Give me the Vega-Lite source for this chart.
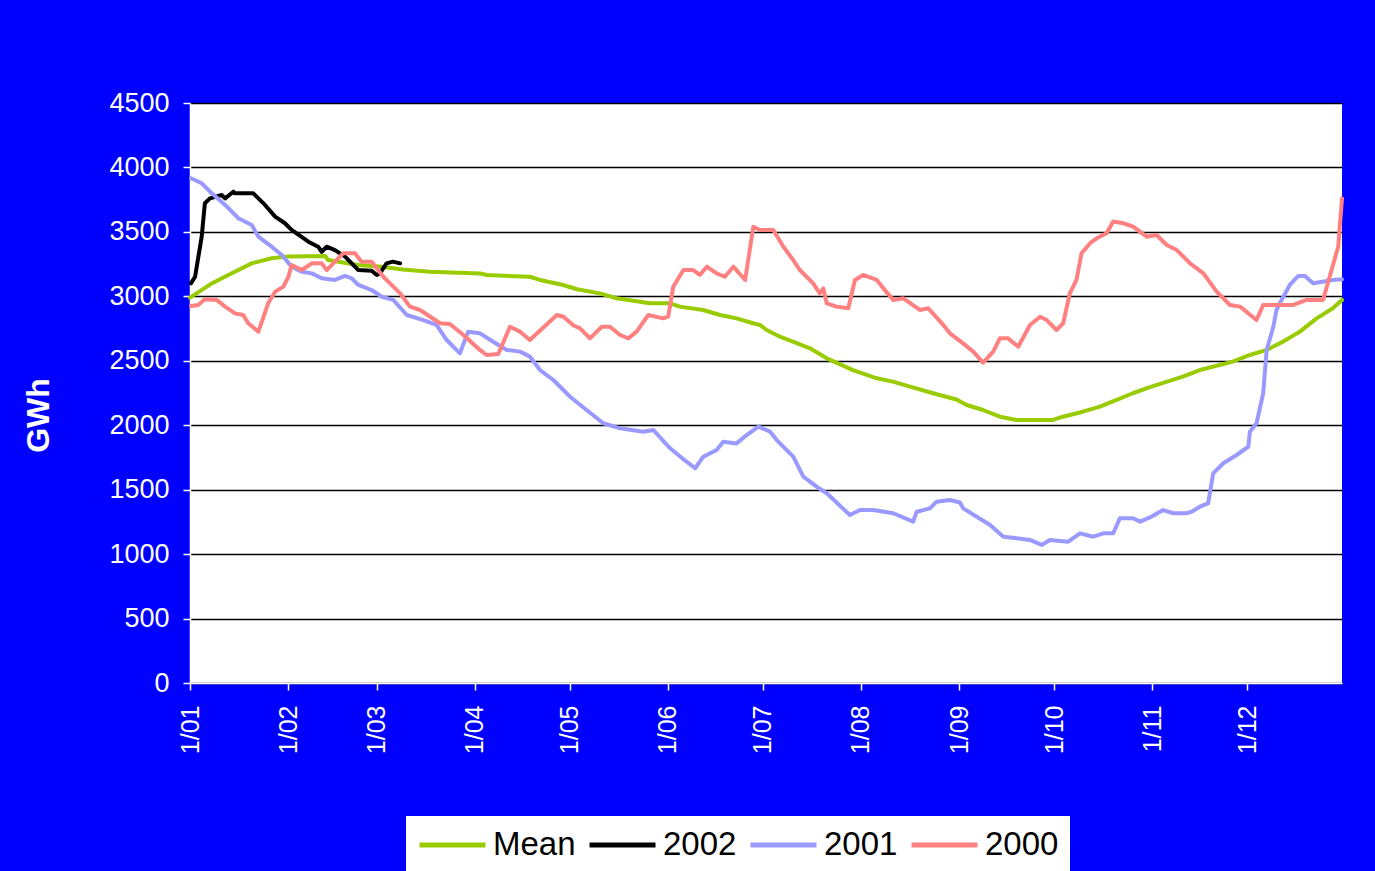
{
  "$schema": "https://vega.github.io/schema/vega-lite/v6.json",
  "width": 1152,
  "height": 580,
  "autosize": {"type": "none"},
  "padding": {"left": 190, "top": 103, "right": 33, "bottom": 188},
  "background": "#0000FF",
  "config": {"view": {"fill": "white", "stroke": null}, "font": "Liberation Sans"},
  "datasets": {
    "raw": [
      {"series":"Mean","day":0,"value":2990},{"series":"Mean","day":6.9,"value":3100},{"series":"Mean","day":12.1,"value":3166},{"series":"Mean","day":19.5,"value":3256},{"series":"Mean","day":25.8,"value":3295},{"series":"Mean","day":31,"value":3310},{"series":"Mean","day":42.7,"value":3313},{"series":"Mean","day":43.6,"value":3282},{"series":"Mean","day":53.1,"value":3243},{"series":"Mean","day":60.6,"value":3230},{"series":"Mean","day":67.3,"value":3209},{"series":"Mean","day":75.8,"value":3191},{"series":"Mean","day":91.6,"value":3178},{"series":"Mean","day":93.8,"value":3165},{"series":"Mean","day":107.4,"value":3152},{"series":"Mean","day":110.6,"value":3127},{"series":"Mean","day":117.9,"value":3088},{"series":"Mean","day":122.3,"value":3055},{"series":"Mean","day":129.5,"value":3023},{"series":"Mean","day":134.8,"value":2985},{"series":"Mean","day":145.3,"value":2946},{"series":"Mean","day":151.6,"value":2946},{"series":"Mean","day":154.8,"value":2920},{"series":"Mean","day":162.1,"value":2894},{"series":"Mean","day":167.5,"value":2855},{"series":"Mean","day":172.7,"value":2829},{"series":"Mean","day":177.9,"value":2791},{"series":"Mean","day":180.1,"value":2778},{"series":"Mean","day":182.2,"value":2739},{"series":"Mean","day":186.4,"value":2687},{"series":"Mean","day":190.5,"value":2648},{"series":"Mean","day":195.9,"value":2597},{"series":"Mean","day":201.2,"value":2519},{"series":"Mean","day":209.5,"value":2428},{"series":"Mean","day":217,"value":2364},{"series":"Mean","day":222.1,"value":2338},{"series":"Mean","day":227.5,"value":2299},{"series":"Mean","day":234.8,"value":2248},{"series":"Mean","day":242.2,"value":2200},{"series":"Mean","day":245.4,"value":2157},{"series":"Mean","day":250.6,"value":2118},{"series":"Mean","day":255.9,"value":2066},{"series":"Mean","day":261.2,"value":2041},{"series":"Mean","day":272.7,"value":2041},{"series":"Mean","day":275.8,"value":2066},{"series":"Mean","day":282.1,"value":2105},{"series":"Mean","day":287.5,"value":2144},{"series":"Mean","day":292.8,"value":2196},{"series":"Mean","day":297.9,"value":2248},{"series":"Mean","day":303.3,"value":2295},{"series":"Mean","day":313.7,"value":2377},{"series":"Mean","day":319.1,"value":2428},{"series":"Mean","day":329.5,"value":2493},{"series":"Mean","day":334.9,"value":2545},{"series":"Mean","day":340.2,"value":2584},{"series":"Mean","day":345.3,"value":2648},{"series":"Mean","day":350.7,"value":2726},{"series":"Mean","day":356,"value":2829},{"series":"Mean","day":361.1,"value":2907},{"series":"Mean","day":364,"value":2972},

      {"series":"2002","day":0.3,"value":3101},{"series":"2002","day":1.6,"value":3152},{"series":"2002","day":3.7,"value":3463},{"series":"2002","day":4.7,"value":3722},{"series":"2002","day":6.3,"value":3760},{"series":"2002","day":10,"value":3786},{"series":"2002","day":11.1,"value":3760},{"series":"2002","day":13.7,"value":3812},{"series":"2002","day":14.2,"value":3799},{"series":"2002","day":20,"value":3799},{"series":"2002","day":23.7,"value":3709},{"series":"2002","day":26.9,"value":3618},{"series":"2002","day":30,"value":3567},{"series":"2002","day":32.1,"value":3515},{"series":"2002","day":37.4,"value":3424},{"series":"2002","day":40.5,"value":3385},{"series":"2002","day":41.6,"value":3346},{"series":"2002","day":43.2,"value":3385},{"series":"2002","day":45.8,"value":3359},{"series":"2002","day":49,"value":3308},{"series":"2002","day":53.2,"value":3204},{"series":"2002","day":57.4,"value":3199},{"series":"2002","day":59,"value":3166},{"series":"2002","day":60,"value":3178},{"series":"2002","day":62.1,"value":3256},{"series":"2002","day":64.1,"value":3269},{"series":"2002","day":66.4,"value":3256},

      {"series":"2001","day":0.3,"value":3916},{"series":"2001","day":3.7,"value":3877},{"series":"2001","day":6.9,"value":3799},{"series":"2001","day":11.1,"value":3709},{"series":"2001","day":15.3,"value":3606},{"series":"2001","day":19.5,"value":3554},{"series":"2001","day":21.6,"value":3463},{"series":"2001","day":25.8,"value":3385},{"series":"2001","day":29,"value":3321},{"series":"2001","day":32.1,"value":3230},{"series":"2001","day":35.3,"value":3191},{"series":"2001","day":38.5,"value":3178},{"series":"2001","day":41.6,"value":3140},{"series":"2001","day":45.8,"value":3127},{"series":"2001","day":49,"value":3158},{"series":"2001","day":51.1,"value":3140},{"series":"2001","day":53.2,"value":3088},{"series":"2001","day":57.4,"value":3049},{"series":"2001","day":60.6,"value":2997},{"series":"2001","day":64.2,"value":2972},{"series":"2001","day":68.5,"value":2855},{"series":"2001","day":73.7,"value":2816},{"series":"2001","day":77.9,"value":2778},{"series":"2001","day":81.1,"value":2661},{"series":"2001","day":85.3,"value":2558},{"series":"2001","day":87.9,"value":2726},{"series":"2001","day":91.6,"value":2713},{"series":"2001","day":95.8,"value":2648},{"series":"2001","day":100.1,"value":2584},{"series":"2001","day":104.3,"value":2571},{"series":"2001","day":107.4,"value":2532},{"series":"2001","day":110.6,"value":2428},{"series":"2001","day":114.8,"value":2351},{"series":"2001","day":120.1,"value":2221},{"series":"2001","day":125.3,"value":2118},{"series":"2001","day":130.6,"value":2015},{"series":"2001","day":135.9,"value":1976},{"series":"2001","day":143.2,"value":1950},{"series":"2001","day":146.4,"value":1963},{"series":"2001","day":151.7,"value":1821},{"series":"2001","day":156.9,"value":1717},{"series":"2001","day":159.6,"value":1666},{"series":"2001","day":162.2,"value":1756},{"series":"2001","day":166.4,"value":1808},{"series":"2001","day":168.5,"value":1872},{"series":"2001","day":172.7,"value":1859},{"series":"2001","day":175.9,"value":1924},{"series":"2001","day":179.6,"value":1989},{"series":"2001","day":183.3,"value":1950},{"series":"2001","day":185.4,"value":1885},{"series":"2001","day":190.6,"value":1756},{"series":"2001","day":193.8,"value":1601},{"series":"2001","day":198,"value":1523},{"series":"2001","day":201.2,"value":1472},{"series":"2001","day":208.5,"value":1303},{"series":"2001","day":211.7,"value":1342},{"series":"2001","day":215.9,"value":1342},{"series":"2001","day":222.2,"value":1317},{"series":"2001","day":228.5,"value":1252},{"series":"2001","day":229.6,"value":1329},{"series":"2001","day":233.8,"value":1355},{"series":"2001","day":235.9,"value":1407},{"series":"2001","day":240.1,"value":1420},{"series":"2001","day":243.3,"value":1400},{"series":"2001","day":244.3,"value":1355},{"series":"2001","day":248.6,"value":1290},{"series":"2001","day":252.8,"value":1226},{"series":"2001","day":257,"value":1135},{"series":"2001","day":261.2,"value":1123},{"series":"2001","day":265.4,"value":1110},{"series":"2001","day":269.1,"value":1071},{"series":"2001","day":271.7,"value":1110},{"series":"2001","day":277.5,"value":1096},{"series":"2001","day":281.2,"value":1161},{"series":"2001","day":285.4,"value":1135},{"series":"2001","day":288.6,"value":1161},{"series":"2001","day":291.7,"value":1161},{"series":"2001","day":293.8,"value":1278},{"series":"2001","day":298,"value":1278},{"series":"2001","day":300.2,"value":1252},{"series":"2001","day":303.3,"value":1285},{"series":"2001","day":307.5,"value":1342},{"series":"2001","day":310.7,"value":1317},{"series":"2001","day":314.9,"value":1317},{"series":"2001","day":316.5,"value":1329},{"series":"2001","day":319.1,"value":1368},{"series":"2001","day":321.7,"value":1394},{"series":"2001","day":323.3,"value":1627},{"series":"2001","day":326.5,"value":1705},{"series":"2001","day":330.7,"value":1769},{"series":"2001","day":334.4,"value":1833},{"series":"2001","day":334.9,"value":1950},{"series":"2001","day":337,"value":2015},{"series":"2001","day":339.1,"value":2248},{"series":"2001","day":340.2,"value":2584},{"series":"2001","day":342.3,"value":2764},{"series":"2001","day":343.3,"value":2894},{"series":"2001","day":344.9,"value":2972},{"series":"2001","day":347.5,"value":3088},{"series":"2001","day":350.2,"value":3158},{"series":"2001","day":352.3,"value":3158},{"series":"2001","day":354.9,"value":3101},{"series":"2001","day":361.2,"value":3127},{"series":"2001","day":364,"value":3132},

      {"series":"2000","day":0.3,"value":2925},{"series":"2000","day":2.6,"value":2933},{"series":"2000","day":4.7,"value":2977},{"series":"2000","day":8.4,"value":2972},{"series":"2000","day":11.1,"value":2920},{"series":"2000","day":14.2,"value":2868},{"series":"2000","day":16.8,"value":2855},{"series":"2000","day":18.4,"value":2791},{"series":"2000","day":21.6,"value":2726},{"series":"2000","day":24.7,"value":2946},{"series":"2000","day":26.9,"value":3036},{"series":"2000","day":29.5,"value":3075},{"series":"2000","day":31.1,"value":3152},{"series":"2000","day":32.1,"value":3243},{"series":"2000","day":35.3,"value":3204},{"series":"2000","day":38.5,"value":3256},{"series":"2000","day":41.6,"value":3256},{"series":"2000","day":43.2,"value":3204},{"series":"2000","day":45.8,"value":3269},{"series":"2000","day":48.4,"value":3334},{"series":"2000","day":52.1,"value":3334},{"series":"2000","day":54.2,"value":3269},{"series":"2000","day":57.4,"value":3269},{"series":"2000","day":61.1,"value":3152},{"series":"2000","day":63.2,"value":3101},{"series":"2000","day":66.4,"value":3023},{"series":"2000","day":69.5,"value":2920},{"series":"2000","day":72.7,"value":2894},{"series":"2000","day":79,"value":2791},{"series":"2000","day":82.1,"value":2785},{"series":"2000","day":86.4,"value":2700},{"series":"2000","day":91.6,"value":2584},{"series":"2000","day":93.7,"value":2545},{"series":"2000","day":97.4,"value":2553},{"series":"2000","day":101.1,"value":2764},{"series":"2000","day":104.3,"value":2726},{"series":"2000","day":107.4,"value":2661},{"series":"2000","day":115.9,"value":2855},{"series":"2000","day":118,"value":2842},{"series":"2000","day":121.1,"value":2775},{"series":"2000","day":123.2,"value":2752},{"series":"2000","day":126.4,"value":2674},{"series":"2000","day":130.1,"value":2764},{"series":"2000","day":132.7,"value":2764},{"series":"2000","day":135.9,"value":2700},{"series":"2000","day":138.5,"value":2674},{"series":"2000","day":141.1,"value":2726},{"series":"2000","day":144.8,"value":2855},{"series":"2000","day":149.5,"value":2829},{"series":"2000","day":151.1,"value":2842},{"series":"2000","day":152.7,"value":3075},{"series":"2000","day":155.9,"value":3204},{"series":"2000","day":159,"value":3204},{"series":"2000","day":161.1,"value":3166},{"series":"2000","day":163.3,"value":3230},{"series":"2000","day":166.4,"value":3178},{"series":"2000","day":169,"value":3152},{"series":"2000","day":171.7,"value":3230},{"series":"2000","day":175.4,"value":3127},{"series":"2000","day":178,"value":3540},{"series":"2000","day":180.1,"value":3515},{"series":"2000","day":184.3,"value":3515},{"series":"2000","day":187.5,"value":3385},{"series":"2000","day":190.6,"value":3282},{"series":"2000","day":192.7,"value":3204},{"series":"2000","day":196.9,"value":3101},{"series":"2000","day":199,"value":3023},{"series":"2000","day":200.1,"value":3062},{"series":"2000","day":201.2,"value":2946},{"series":"2000","day":204.3,"value":2920},{"series":"2000","day":208,"value":2907},{"series":"2000","day":210.1,"value":3127},{"series":"2000","day":212.7,"value":3166},{"series":"2000","day":217,"value":3127},{"series":"2000","day":219.1,"value":3062},{"series":"2000","day":222.2,"value":2972},{"series":"2000","day":225.4,"value":2985},{"series":"2000","day":230.6,"value":2894},{"series":"2000","day":233.3,"value":2907},{"series":"2000","day":238,"value":2778},{"series":"2000","day":240.1,"value":2713},{"series":"2000","day":244.3,"value":2635},{"series":"2000","day":247.5,"value":2571},{"series":"2000","day":250.6,"value":2485},{"series":"2000","day":253.8,"value":2571},{"series":"2000","day":255.9,"value":2674},{"series":"2000","day":258.5,"value":2674},{"series":"2000","day":261.7,"value":2609},{"series":"2000","day":265.4,"value":2778},{"series":"2000","day":268.6,"value":2842},{"series":"2000","day":270.7,"value":2816},{"series":"2000","day":273.8,"value":2739},{"series":"2000","day":275.9,"value":2791},{"series":"2000","day":278,"value":3023},{"series":"2000","day":280.1,"value":3127},{"series":"2000","day":281.7,"value":3334},{"series":"2000","day":284.4,"value":3412},{"series":"2000","day":286.5,"value":3450},{"series":"2000","day":289.6,"value":3489},{"series":"2000","day":291.7,"value":3580},{"series":"2000","day":294.9,"value":3567},{"series":"2000","day":298,"value":3540},{"series":"2000","day":302.3,"value":3463},{"series":"2000","day":305.4,"value":3476},{"series":"2000","day":308.6,"value":3398},{"series":"2000","day":311.8,"value":3359},{"series":"2000","day":316,"value":3256},{"series":"2000","day":320.2,"value":3178},{"series":"2000","day":324.4,"value":3036},{"series":"2000","day":328.6,"value":2933},{"series":"2000","day":331.8,"value":2920},{"series":"2000","day":337,"value":2816},{"series":"2000","day":339.1,"value":2933},{"series":"2000","day":348.6,"value":2933},{"series":"2000","day":352.8,"value":2972},{"series":"2000","day":358,"value":2972},{"series":"2000","day":360.7,"value":3204},{"series":"2000","day":362.8,"value":3385},{"series":"2000","day":364,"value":3760}
    ]
  },
  "data": {"name": "raw"},
  "mark": {"type": "line", "strokeWidth": 4, "strokeJoin": "round", "strokeCap": "round"},
  "encoding": {
    "x": {
      "field": "day",
      "type": "quantitative",
      "scale": {"domain": [0, 364], "nice": false, "zero": false},
      "axis": {
        "title": null,
        "values": [0, 31, 59, 90, 120, 151, 181, 212, 243, 273, 304, 334],
        "labelExpr": "timeFormat(datetime(2001, 0, 1 + datum.value), '1/%m')",
        "labelAngle": -90,
        "labelAlign": "right",
        "labelBaseline": "middle",
        "labelFontSize": 25,
        "labelColor": "white",
        "labelPadding": 15,
        "labelFont": "Liberation Sans",
        "tickColor": "white",
        "tickSize": 7,
        "tickWidth": 1.5,
        "domainColor": "white",
        "domainWidth": 1.5,
        "grid": false
      }
    },
    "y": {
      "field": "value",
      "type": "quantitative",
      "scale": {"domain": [0, 4500], "nice": false},
      "axis": {
        "title": "GWh",
        "values": [0, 500, 1000, 1500, 2000, 2500, 3000, 3500, 4000, 4500],
        "format": "d",
        "labelFontSize": 27,
        "labelColor": "white",
        "labelFont": "Liberation Sans",
        "labelPadding": 14,
        "tickColor": "white",
        "tickSize": 7,
        "tickWidth": 1.5,
        "domainColor": "white",
        "domainWidth": 1.5,
        "grid": true,
        "gridColor": "black",
        "gridWidth": 1.5,
        "titleColor": "white",
        "titleFont": "Liberation Sans",
        "titleFontSize": 32,
        "titleFontWeight": "bold",
        "titleAngle": -90,
        "titleX": -152,
        "titleY": 312,
        "titleAlign": "center",
        "titleBaseline": "middle"
      }
    },
    "color": {
      "field": "series",
      "type": "nominal",
      "sort": ["Mean", "2002", "2001", "2000"],
      "scale": {"domain": ["Mean", "2002", "2001", "2000"], "range": ["#99CC00", "#000000", "#9999FF", "#FF8080"]},
      "legend": {
        "title": null,
        "orient": "none",
        "legendX": 216,
        "legendY": 713,
        "direction": "horizontal",
        "fillColor": "white",
        "padding": 11,
        "symbolType": "stroke",
        "symbolSize": 4356,
        "symbolStrokeWidth": 5,
        "clipHeight": 36,
        "labelFontSize": 33,
        "labelFont": "Liberation Sans",
        "labelColor": "black",
        "labelOffset": 5,
        "columnPadding": 11,
        "labelLimit": 300
      }
    },
    "order": {"field": "day", "type": "quantitative"}
  }
}
